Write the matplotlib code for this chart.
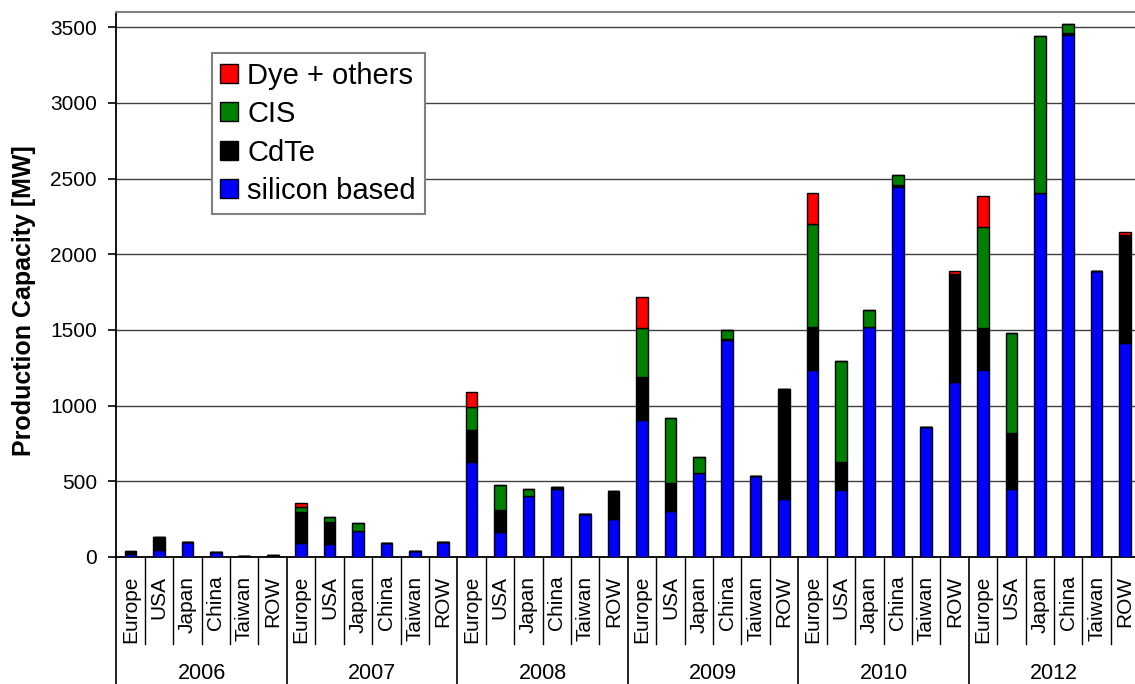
import numpy as np
import matplotlib
matplotlib.use("Agg")
import matplotlib.pyplot as plt
from matplotlib.patches import Patch
import matplotlib.transforms as mtransforms

plt.rcParams['font.family'] = ['Liberation Sans', 'DejaVu Sans']

# Data (MW)
years = ["2006", "2007", "2008", "2009", "2010", "2012"]
regions = ["Europe", "USA", "Japan", "China", "Taiwan", "ROW"]

silicon = [20, 45, 100, 30, 8, 5,
           95, 84, 172, 95, 40, 100,
           630, 164, 402, 451, 283, 254,
           902, 305, 553, 1432, 535, 382,
           1236, 445, 1517, 2447, 856, 1154,
           1236, 452, 2404, 3447, 1887, 1411]
cdte = [12, 85, 0, 0, 0, 8,
        203, 145, 0, 0, 0, 0,
        210, 145, 0, 9, 0, 184,
        285, 186, 0, 9, 0, 725,
        281, 185, 0, 12, 0, 714,
        279, 365, 0, 12, 0, 719]
cis = [10, 0, 0, 0, 0, 0,
       31, 36, 50, 0, 0, 0,
       148, 166, 49, 0, 0, 0,
       327, 426, 110, 57, 0, 0,
       685, 663, 113, 63, 0, 0,
       665, 664, 1034, 60, 0, 0]
dye = [0, 0, 0, 0, 0, 0,
       30, 0, 0, 0, 0, 0,
       99, 0, 0, 0, 0, 0,
       205, 0, 0, 0, 0, 0,
       200, 0, 0, 0, 0, 19,
       205, 0, 0, 0, 0, 17]

series = [("silicon based", silicon, "#0000ff"),
          ("CdTe", cdte, "#000000"),
          ("CIS", cis, "#008000"),
          ("Dye + others", dye, "#ff0000")]

n = len(years) * len(regions)
x = np.arange(n)

fig = plt.figure(figsize=(11.35, 6.84), dpi=100)
ax = fig.add_axes([0.1026, 0.1857, 0.9011, 0.7968])

bottom = np.zeros(n)
for name, vals, col in series:
    vals = np.array(vals, dtype=float)
    ax.bar(x, vals, width=0.41, bottom=bottom, color=col,
           edgecolor="black", linewidth=1.0, zorder=3)
    bottom += vals

ax.set_xlim(-0.5, n - 0.5)
ax.set_ylim(0, 3600)
ax.set_yticks(np.arange(0, 3501, 500))
ax.tick_params(axis="y", labelsize=15, length=6, width=1.2, pad=8, direction="out")
ax.set_xticks([])
ax.yaxis.grid(True, color="#404040", linewidth=1.0, zorder=0)
ax.set_axisbelow(True)

ax.spines["right"].set_visible(False)
ax.spines["top"].set_color("#808080")
ax.spines["top"].set_linewidth(1.5)
ax.spines["left"].set_linewidth(1.3)
ax.spines["bottom"].set_linewidth(1.3)

ax.set_ylabel("Production Capacity [MW]", fontsize=18, fontweight="bold")
ax.yaxis.set_label_coords(-0.079, 0.47)

# category / year axis below the plot
trans = mtransforms.blended_transform_factory(ax.transData, ax.transAxes)
for i in range(n + 1):
    xb = i - 0.5
    if i % len(regions) == 0:
        ax.plot([xb, xb], [0, -0.235], color="black", lw=1.2,
                transform=trans, clip_on=False)
    else:
        ax.plot([xb, xb], [0, -0.16], color="black", lw=1.0,
                transform=trans, clip_on=False)

for i in range(n):
    ax.text(x[i], -0.034, regions[i % len(regions)], rotation=90,
            ha="center", va="top", fontsize=15, transform=trans)

for j, yr in enumerate(years):
    xc = j * len(regions) + (len(regions) - 1) / 2
    ax.text(xc, -0.214, yr, ha="center", va="center", fontsize=15.5,
            transform=trans)

handles = [Patch(facecolor=col, edgecolor="black", label=name)
           for name, vals, col in series[::-1]]
leg = ax.legend(handles=handles, loc="upper left",
                bbox_to_anchor=(0.093, 0.925), fontsize=21,
                handlelength=0.62, handleheight=0.62, handletextpad=0.3,
                labelspacing=0.36, borderpad=0.3, borderaxespad=0,
                fancybox=False, framealpha=1)
leg.get_frame().set_edgecolor("#808080")
leg.get_frame().set_linewidth(1.5)

fig.savefig("out.png", dpi=100)
